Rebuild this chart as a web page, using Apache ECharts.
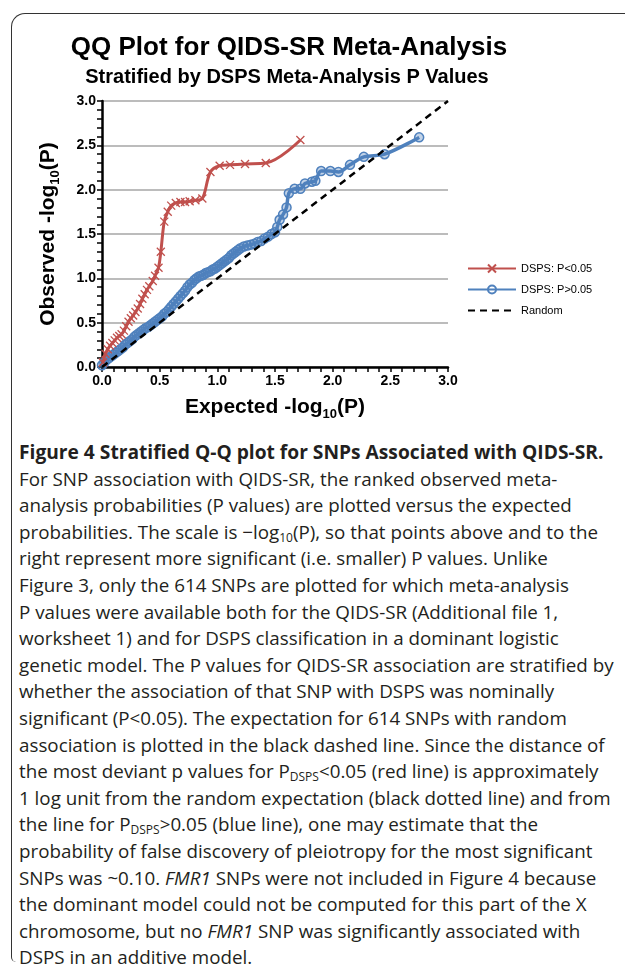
<!DOCTYPE html>
<html>
<head>
<meta charset="utf-8">
<script src="https://cdn.jsdelivr.net/npm/echarts@6/dist/echarts.min.js"></script>
<style>
  html, body { margin: 0; padding: 0; background: #fff; }
  #wrap { position: relative; width: 625px; height: 975px; overflow: hidden; }
  #frame { position: absolute; left: 11px; top: 13px; width: 640px; height: 948px;
           border-top: 1.5px solid #333; border-left: 1.5px solid #333;
           border-top-left-radius: 14px; border-bottom-left-radius: 5px; }
  #chart { position: absolute; left: 0; top: 0; width: 625px; height: 430px; }
  #caption { position: absolute; left: 19px; top: 439px; font-family: "Open Sans", "Noto Sans", sans-serif;
             font-size: 18.8px; line-height: 26.6px; color: #231f20; white-space: nowrap; }
  #caption b { font-weight: 700; font-size: 19.2px; }
  #caption sub { font-size: 12px; vertical-align: -3px; line-height: 0; }
</style>
</head>
<body>
<div id="wrap">
  <div id="frame"></div>
  <div id="chart"></div>
  <div id="caption">
<b>Figure 4 Stratified Q-Q plot for SNPs Associated with QIDS-SR.</b><br>
For SNP association with QIDS-SR, the ranked observed meta-<br>
analysis probabilities (P values) are plotted versus the expected<br>
probabilities. The scale is &minus;log<sub>10</sub>(P), so that points above and to the<br>
right represent more significant (i.e. smaller) P values. Unlike<br>
Figure 3, only the 614 SNPs are plotted for which meta-analysis<br>
P values were available both for the QIDS-SR (Additional file 1,<br>
worksheet 1) and for DSPS classification in a dominant logistic<br>
genetic model. The P values for QIDS-SR association are stratified by<br>
whether the association of that SNP with DSPS was nominally<br>
significant (P&lt;0.05). The expectation for 614 SNPs with random<br>
association is plotted in the black dashed line. Since the distance of<br>
the most deviant p values for P<sub>DSPS</sub>&lt;0.05 (red line) is approximately<br>
1 log unit from the random expectation (black dotted line) and from<br>
the line for P<sub>DSPS</sub>&gt;0.05 (blue line), one may estimate that the<br>
probability of false discovery of pleiotropy for the most significant<br>
SNPs was ~0.10. <i>FMR1</i> SNPs were not included in Figure 4 because<br>
the dominant model could not be computed for this part of the X<br>
chromosome, but no <i>FMR1</i> SNP was significantly associated with<br>
DSPS in an additive model.
  </div>
</div>
<script>
// ---- data ----
const seriesNames = ['DSPS: P<0.05', 'DSPS: P>0.05', 'Random'];

const redX = [0.008,0.03,0.05,0.07,0.09,0.11,0.13,0.15,0.17,0.19,0.21,0.23,0.25,0.27,0.29,0.31,0.33,0.35,0.37,0.39,0.41,0.44,0.46,0.49,0.51,0.54,0.57,0.60,0.64,0.68,0.72,0.76,0.81,0.87,0.94,1.02,1.11,1.24,1.42,1.72];
const redY = [0.05,0.15,0.20,0.24,0.27,0.30,0.33,0.35,0.37,0.41,0.46,0.51,0.55,0.58,0.62,0.66,0.71,0.77,0.82,0.87,0.91,0.97,1.03,1.12,1.30,1.64,1.75,1.82,1.85,1.86,1.86,1.87,1.88,1.90,2.20,2.27,2.28,2.29,2.30,2.56];

const blueX = [0.00,0.02,0.04,0.06,0.08,0.10,0.12,0.14,0.16,0.18,0.20,0.22,0.24,0.26,0.28,0.30,0.32,0.34,0.36,0.38,0.40,0.42,0.44,0.46,0.48,0.50,0.52,0.54,0.56,0.58,0.60,0.62,0.64,0.66,0.68,0.70,0.72,0.74,0.76,0.78,0.80,0.82,0.84,0.86,0.88,0.90,0.92,0.94,0.96,0.98,1.00,1.02,1.04,1.06,1.08,1.10,1.12,1.14,1.16,1.18,1.20,1.23,1.26,1.29,1.32,1.35,1.38,1.41,1.44,1.47,1.50,1.52,1.54,1.57,1.60,1.62,1.67,1.72,1.76,1.82,1.85,1.90,1.98,2.05,2.15,2.27,2.45,2.75];
const blueY = [0.02,0.05,0.08,0.10,0.12,0.14,0.16,0.18,0.20,0.22,0.25,0.27,0.29,0.31,0.34,0.36,0.38,0.40,0.42,0.44,0.45,0.47,0.49,0.51,0.53,0.55,0.57,0.60,0.62,0.65,0.68,0.71,0.74,0.77,0.80,0.83,0.86,0.90,0.93,0.95,0.98,1.00,1.02,1.03,1.04,1.06,1.07,1.08,1.10,1.11,1.13,1.15,1.17,1.19,1.21,1.23,1.26,1.28,1.30,1.32,1.34,1.36,1.37,1.38,1.39,1.41,1.42,1.45,1.47,1.50,1.52,1.58,1.66,1.72,1.80,1.96,2.01,2.01,2.07,2.09,2.10,2.21,2.21,2.20,2.28,2.37,2.40,2.59];

const randomX = [0, 3];
const randomY = [0, 3];

const axisTicks = [0, 0.5, 1.0, 1.5, 2.0, 2.5, 3.0];

// ---- chart ----
const zip = (xs, ys) => xs.map((x, i) => [x, ys[i]]);
const chart = echarts.init(document.getElementById('chart'), null, { renderer: 'canvas' });
const ff = '"Liberation Sans", Arial, sans-serif';
const nameRich = {
  sub: { fontSize: 13, fontWeight: 'bold', fontFamily: ff, color: '#000', lineHeight: 28, verticalAlign: 'bottom' }
};

chart.setOption({
  animation: false,
  title: [
    { text: 'QQ Plot for QIDS-SR Meta-Analysis', left: 284, top: 30, textAlign: 'center',
      textStyle: { fontFamily: ff, fontSize: 26, fontWeight: 'bold', color: '#000' } },
    { text: 'Stratified by DSPS Meta-Analysis P Values', left: 282, top: 62, textAlign: 'center',
      textStyle: { fontFamily: ff, fontSize: 20, fontWeight: 'bold', color: '#000' } }
  ],
  legend: {
    orient: 'vertical', left: 462, top: 258, itemWidth: 48, itemHeight: 10, itemGap: 10,
    data: [
      { name: seriesNames[0] },
      { name: seriesNames[1], itemStyle: { color: 'rgba(255,255,255,0)' } },
      { name: seriesNames[2], itemStyle: { opacity: 0 } }
    ],
    textStyle: { fontFamily: ff, fontSize: 11, color: '#000' }
  },
  grid: { left: 102, right: 177, top: 101, bottom: 63 },
  xAxis: {
    type: 'value', min: 0, max: 3, interval: 0.5,
    name: 'Expected -log{sub|10}(P)', nameLocation: 'middle', nameGap: 26,
    nameTextStyle: { fontFamily: ff, fontSize: 21, fontWeight: 'bold', color: '#000', lineHeight: 28, rich: nameRich },
    axisLine: { lineStyle: { color: '#000', width: 2.5 } },
    axisTick: { show: true, length: 5, lineStyle: { color: '#000', width: 1.5 } },
    minorTick: { show: true, splitNumber: 5, length: 5, lineStyle: { color: '#000', width: 1.5 } },
    axisLabel: { fontFamily: ff, fontSize: 14, fontWeight: 'bold', color: '#000', margin: 7,
      formatter: v => axisTicks.includes(v) ? v.toFixed(1) : '' },
    splitLine: { show: false }
  },
  yAxis: {
    type: 'value', min: 0, max: 3, interval: 0.5,
    name: 'Observed -log{sub|10}(P)', nameLocation: 'middle', nameGap: 40,
    nameTextStyle: { fontFamily: ff, fontSize: 21, fontWeight: 'bold', color: '#000', lineHeight: 28, rich: nameRich },
    axisLine: { show: true, lineStyle: { color: '#000', width: 2.5 } },
    axisTick: { show: true, length: 5, lineStyle: { color: '#000', width: 1.5 } },
    minorTick: { show: true, splitNumber: 5, length: 5, lineStyle: { color: '#000', width: 1.5 } },
    axisLabel: { fontFamily: ff, fontSize: 14, fontWeight: 'bold', color: '#000', margin: 6,
      formatter: v => v.toFixed(1) },
    splitLine: { show: true, lineStyle: { color: '#a6a6a6', width: 1.5 } }
  },
  series: [
    {
      name: seriesNames[0], type: 'line', data: zip(redX, redY), smooth: 0.35,
      symbol: 'path://M0,0L10,10M10,0L0,10', symbolSize: 8,
      itemStyle: { color: 'rgba(0,0,0,0)', borderColor: '#c0504d', borderWidth: 1.3 },
      lineStyle: { color: '#c0504d', width: 3 }, z: 3
    },
    {
      name: seriesNames[1], type: 'line', data: zip(blueX, blueY), smooth: 0.35,
      symbol: 'circle', symbolSize: 9,
      itemStyle: { color: 'rgba(79,129,189,0.35)', borderColor: '#4f81bd', borderWidth: 1.5 },
      lineStyle: { color: '#4f81bd', width: 3.5 }, z: 2
    },
    {
      name: seriesNames[2], type: 'line', data: zip(randomX, randomY), symbol: 'none',
      itemStyle: { color: '#000' },
      lineStyle: { color: '#000', width: 2.5, type: [7, 5] }, z: 4
    }
  ]
});
</script>
</body>
</html>
